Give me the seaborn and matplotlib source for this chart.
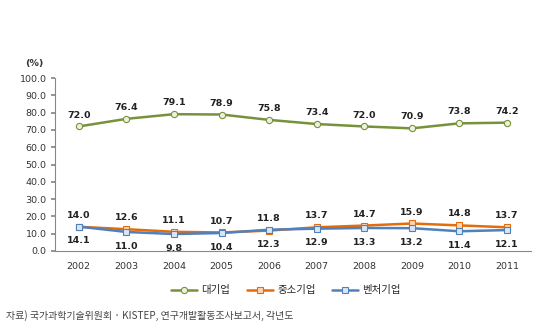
import matplotlib
matplotlib.use("Agg")
import matplotlib.pyplot as plt
import seaborn as sns
import pandas as pd
import numpy as np

years = ["2002", "2003", "2004", "2005", "2006", "2007", "2008", "2009", "2010", "2011"]
large = [72.0, 76.4, 79.1, 78.9, 75.8, 73.4, 72.0, 70.9, 73.8, 74.2]
sme = [14.0, 12.6, 11.1, 10.7, 11.8, 13.7, 14.7, 15.9, 14.8, 13.7]
venture = [14.1, 11.0, 9.8, 10.4, 12.3, 12.9, 13.3, 13.2, 11.4, 12.1]
series_names = ["대기업", "중소기업", "벤처기업"]
y_ticks = [0, 10, 20, 30, 40, 50, 60, 70, 80, 90, 100]

sns.set_theme(style="white")
plt.rcParams['font.family'] = ['Noto Sans CJK KR', 'DejaVu Sans']

df = pd.DataFrame({
    "x": list(range(len(years))) * 3,
    "value": large + sme + venture,
    "series": [series_names[0]] * len(years) + [series_names[1]] * len(years) + [series_names[2]] * len(years),
})

fig = plt.figure(figsize=(5.5, 3.32), dpi=100)
ax = fig.add_axes([0.1, 0.244, 0.865, 0.521])

colors = {"대기업": "#76923C", "중소기업": "#E46C0A", "벤처기업": "#4F81BD"}
fills = {"대기업": "#EBF1DE", "중소기업": "#FCD5B5", "벤처기업": "#DCE6F2"}
markers = {"대기업": "o", "중소기업": "s", "벤처기업": "s"}

for name in series_names:
    sub = df[df["series"] == name]
    sns.lineplot(data=sub, x="x", y="value", ax=ax, color=colors[name], lw=1.8,
                 marker=markers[name], markersize=4.5, markerfacecolor=fills[name],
                 markeredgecolor=colors[name], markeredgewidth=0.8, label=name)

lab_kw = dict(ha="center", fontsize=6.8, fontweight="bold", color="#222222",
              family=["DejaVu Sans"])
for i in range(len(years)):
    ax.annotate(f"{large[i]:.1f}", (i, large[i]), xytext=(0, 5), textcoords="offset points", va="bottom", **lab_kw)
    ax.annotate(f"{sme[i]:.1f}", (i, max(sme[i], venture[i])), xytext=(0, 5), textcoords="offset points", va="bottom", **lab_kw)
    ax.annotate(f"{venture[i]:.1f}", (i, min(sme[i], venture[i])), xytext=(0, -7), textcoords="offset points", va="top", **lab_kw)

ax.set_xlim(-0.5, len(years) - 0.5)
ax.set_ylim(0, 100)
ax.set_yticks(y_ticks)
ax.set_yticklabels([f"{v:.1f}" for v in y_ticks], fontsize=6.8, color="#333333", family=["DejaVu Sans"])
ax.set_xticks(range(len(years)))
ax.set_xticklabels(years, fontsize=6.8, color="#333333", family=["DejaVu Sans"])
ax.set_xticks(np.arange(-0.5, len(years), 1.0), minor=True)
ax.tick_params(axis="x", which="major", length=0, pad=8)
ax.tick_params(axis="x", which="minor", length=4, color="#888888", direction="out")
ax.tick_params(axis="y", length=3, color="#888888", direction="out", left=True, pad=3)
ax.set_xlabel("")
ax.set_ylabel("")
for s in ["top", "right"]:
    ax.spines[s].set_visible(False)
for s in ["left", "bottom"]:
    ax.spines[s].set_color("#888888")
    ax.spines[s].set_linewidth(0.8)

fig.text(0.045, 0.80, "(%)", fontsize=6.8, color="#333333", family=["DejaVu Sans"], fontweight="bold")

ax.get_legend().remove()
handles, labels = ax.get_legend_handles_labels()
fig.legend(handles, labels, loc="center", bbox_to_anchor=(0.52, 0.125), ncol=3, frameon=False,
           fontsize=7.5, handlelength=2.5, columnspacing=1.6, handletextpad=0.4)

fig.text(0.01, 0.04, "자료) 국가과학기술위원회 · KISTEP, 연구개발활동조사보고서, 각년도",
         fontsize=7.2, color="#444444")

fig.savefig("out.png", dpi=100, facecolor="white")
